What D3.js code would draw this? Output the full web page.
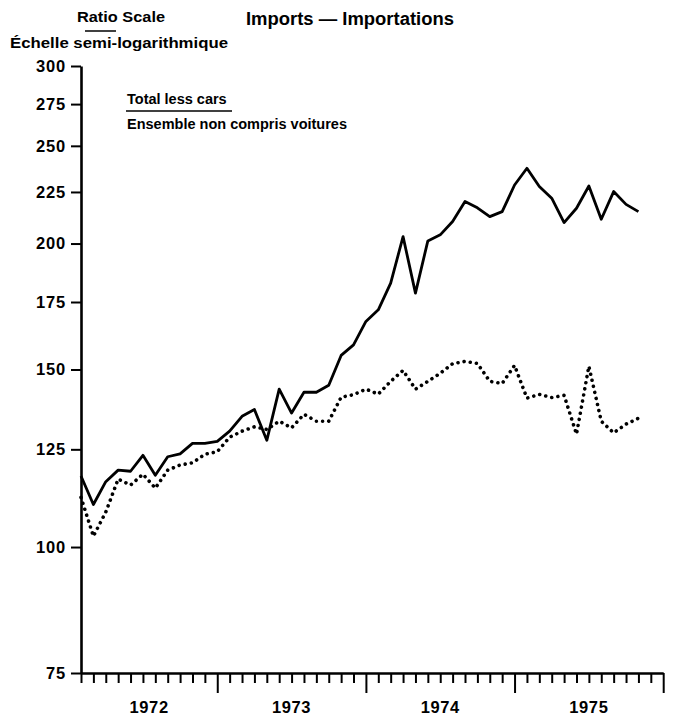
<!DOCTYPE html>
<html>
<head>
<meta charset="utf-8">
<script src="https://cdn.jsdelivr.net/npm/d3@7"></script>
<style>
  body { margin: 0; background: #fff; }
  text { font-family: "Liberation Sans", Arial, sans-serif; font-weight: bold; fill: #000; }
</style>
</head>
<body>
<svg id="chart" width="677" height="718"></svg>
<script>
// months counted from Jan 1972 = 0, first observation is Feb 1972
let firstMonth = 1;
let lastAxisMonth = 48;

// Total less cars (solid)
let totalLessCars = [
    117.6, 110.2, 116.1, 119.2, 118.9, 123.3, 117.8, 122.9, 123.7, 126.7, 126.7,
    127.3, 130.3, 134.8, 136.9, 127.6, 143.4, 135.8, 142.4, 142.4, 144.7, 154.9,
    158.7, 167.4, 171.9, 182.7, 203.2, 178.6, 201.2, 204.0, 210.3, 220.2, 217.0,
    212.7, 215.1, 228.6, 237.5, 227.8, 221.8, 209.8, 216.8, 228.1, 211.4, 225.2,
    218.7, 215.1
];

// dotted series
let dottedSeries = [
    112.0, 102.5, 108.3, 116.8, 115.2, 118.1, 114.4, 119.2, 120.6, 121.2, 123.6,
    124.3, 128.5, 130.3, 131.6, 130.8, 133.3, 131.3, 135.4, 133.3, 133.3, 140.8,
    141.6, 143.4, 141.8, 146.0, 149.7, 143.4, 146.0, 148.7, 152.0, 152.8, 152.1,
    146.0, 145.3, 151.4, 140.5, 141.7, 140.7, 141.4, 129.4, 151.1, 133.3, 129.8,
    132.4, 134.2
];

let yTicks = [75, 100, 125, 150, 175, 200, 225, 250, 275, 300];
let years = [1972, 1973, 1974, 1975];

let svg = d3.select("#chart");

let x = d3.scaleLinear().domain([firstMonth, lastAxisMonth]).range([81, 663.2]);
let y = d3.scaleLog().domain([75, 300]).range([673, 66]);

// y axis
let yAxis = svg.append("g")
    .attr("transform", "translate(81,0)")
    .call(d3.axisLeft(y).tickValues(yTicks).tickFormat(d3.format("d")).tickSize(10).tickSizeOuter(0).tickPadding(5));
yAxis.select(".domain").style("stroke-width", "2.6px");
yAxis.selectAll(".tick line").style("stroke-width", "2px");
yAxis.selectAll(".tick text")
    .style("font-size", "16.5px")
    .style("letter-spacing", "0.8px")
    .style("font-family", "'Liberation Sans', Arial, sans-serif")
    .style("font-weight", "bold");

// x axis: one tick per month, long ticks at year ends
let xAxis = svg.append("g")
    .attr("transform", "translate(0,673)")
    .call(d3.axisBottom(x).tickValues(d3.range(firstMonth, lastAxisMonth + 1)).tickFormat("").tickSize(10).tickSizeOuter(0));
xAxis.select(".domain").style("stroke-width", "2.6px");
xAxis.selectAll(".tick line")
    .style("stroke-width", "2px")
    .attr("y2", (d) => { return d % 12 === 0 ? 20 : 10; });

xAxis.selectAll(".yearLabel")
    .data(years)
    .enter().append("text")
    .attr("class", "yearLabel")
    .attr("x", (d, i) => {
        let a = Math.max(firstMonth, i * 12), b = (i + 1) * 12;
        return (x(a) + x(b)) / 2;
    })
    .attr("y", 40)
    .attr("text-anchor", "middle")
    .style("font-size", "16.5px")
    .style("letter-spacing", "0.6px")
    .text((d) => d);

// lines
let line = d3.line()
    .x((d, i) => x(firstMonth + i))
    .y((d) => y(d));

svg.append("path")
    .datum(dottedSeries)
    .attr("d", line)
    .style("fill", "none")
    .style("stroke", "#000")
    .style("stroke-width", "3.6px")
    .style("stroke-linecap", "round")
    .style("stroke-dasharray", "0.01 6.2");

svg.append("path")
    .datum(totalLessCars)
    .attr("d", line)
    .style("fill", "none")
    .style("stroke", "#000")
    .style("stroke-width", "2.8px")
    .style("stroke-linejoin", "round");

// titles
svg.append("text")
    .attr("x", 350).attr("y", 25)
    .attr("text-anchor", "middle")
    .style("font-size", "18px")
    .attr("textLength", 208)
    .attr("lengthAdjust", "spacingAndGlyphs")
    .text("Imports — Importations");

svg.append("text")
    .attr("x", 77).attr("y", 22)
    .style("font-size", "14px")
    .attr("textLength", 88)
    .attr("lengthAdjust", "spacingAndGlyphs")
    .text("Ratio Scale");
svg.append("line")
    .attr("x1", 85).attr("x2", 116).attr("y1", 31).attr("y2", 31)
    .style("stroke", "#000").style("stroke-width", "1.5px");
svg.append("text")
    .attr("x", 10).attr("y", 48)
    .style("font-size", "14px")
    .attr("textLength", 218)
    .attr("lengthAdjust", "spacingAndGlyphs")
    .text("Échelle semi-logarithmique");

// legend
svg.append("text")
    .attr("x", 127).attr("y", 104)
    .style("font-size", "14.5px")
    .text("Total less cars");
svg.append("line")
    .attr("x1", 126).attr("x2", 232).attr("y1", 111).attr("y2", 111)
    .style("stroke", "#000").style("stroke-width", "1.5px");
svg.append("text")
    .attr("x", 127).attr("y", 129)
    .style("font-size", "14.5px")
    .text("Ensemble non compris voitures");
</script>
</body>
</html>
